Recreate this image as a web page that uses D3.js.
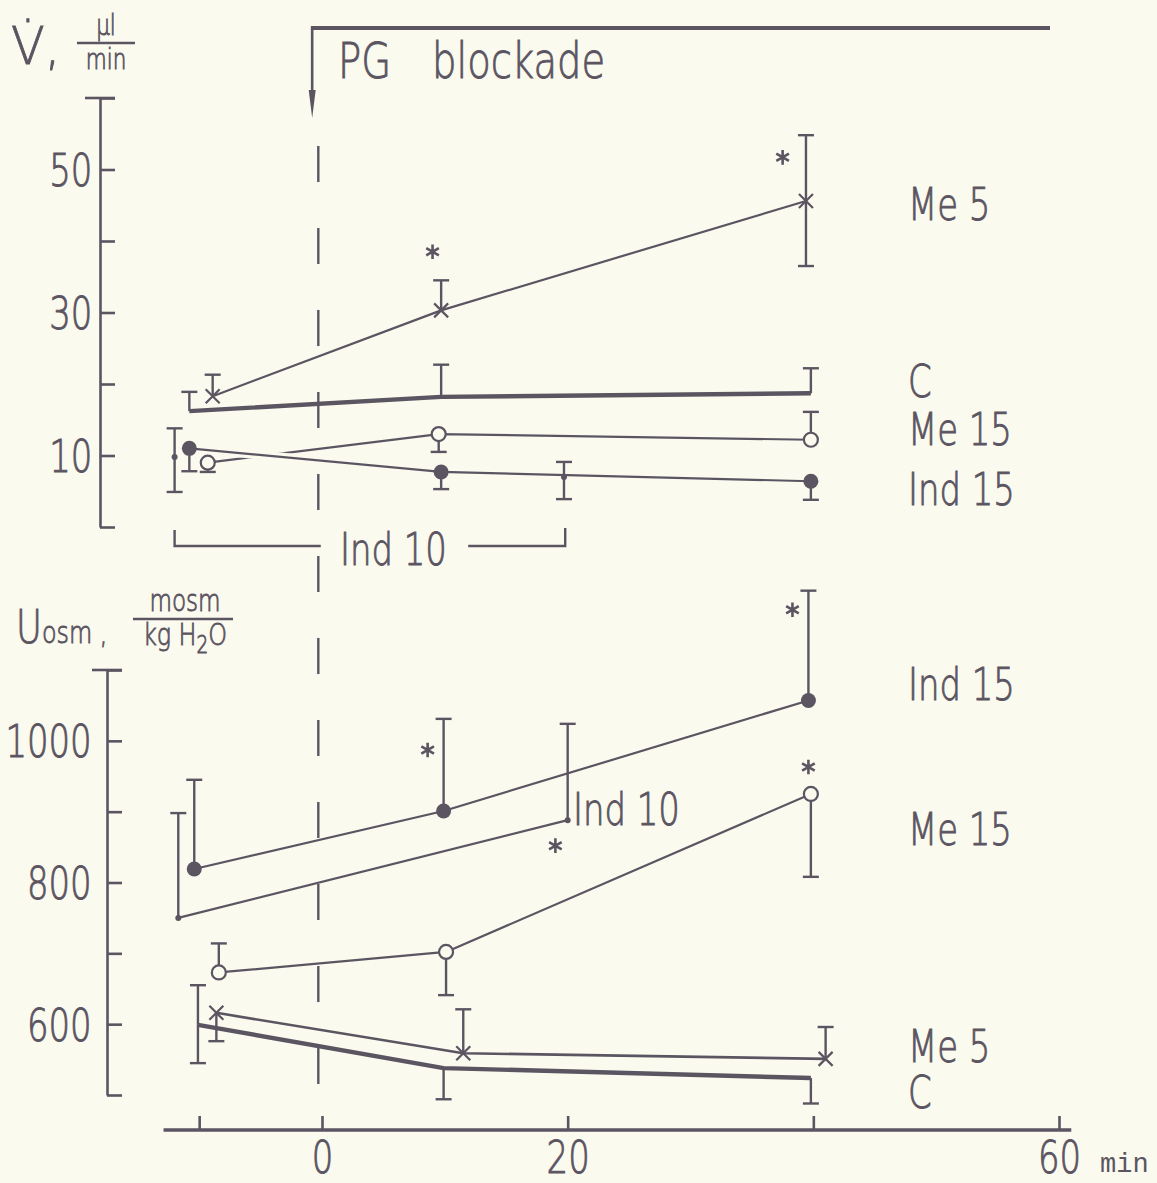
<!DOCTYPE html>
<html>
<head>
<meta charset="utf-8">
<script src="https://cdn.jsdelivr.net/npm/d3@7"></script>
<style>
body { margin: 0; background: #fbfaef; }
text { font-family: "DejaVu Sans", sans-serif; font-weight: 200; fill: #5b5562; stroke: #5b5562; stroke-width: 0.9px; }
</style>
</head>
<body>
<svg id="fig" width="1157" height="1183"></svg>
<script>
// rows: [minutes, mean, lower bar end, upper bar end]  (null = no bar on that side)
// upper panel, urine flow V (ul/min)
var flowC     = [[-10.8, 16.2, null, 18.9], [9.7, 18.2, null, 22.7], [39.8, 18.7, null, 22.2]];
var flowMe5   = [[-8.9, 18.3, null, 21.3], [9.7, 30.3, null, 34.5], [39.4, 45.6, 36.5, 54.8]];
var flowMe15  = [[-9.3, 9.0, 7.7, null], [9.5, 13.0, 10.5, null], [39.8, 12.2, null, 16.1]];
var flowInd15 = [[-10.8, 11.0, 7.8, null], [9.7, 7.7, 5.3, null], [39.8, 6.4, 3.8, null]];
var flowInd10 = [[-12.0, 9.8, 4.9, 13.8], [19.7, 7.0, 3.9, 9.1]];
var flowStars = [[9.0, 38.5], [37.5, 51.7]];

// lower panel, urine osmolality (mosm/kg H2O)
var osmC     = [[-10.1, 599, 545, 655], [9.9, 538, 494, null], [39.8, 524, 488, null]];
var osmMe5   = [[-8.6, 616, 576, null], [11.5, 559, null, 621], [41.0, 551, null, 596]];
var osmMe15  = [[-8.4, 673, null, 714], [10.1, 702, 641, null], [39.8, 925, 808, null]];
var osmInd15 = [[-10.4, 819, null, 945], [9.9, 901, null, 1031], [39.6, 1057, null, 1212]];
var osmInd10 = [[-11.7, 750, null, 898], [20.0, 888, null, 1024]];
var osmStars = [[8.6, 987], [38.3, 1185], [19.0, 852], [39.6, 963]];

var flowTicks = [0, 10, 20, 30, 40, 50, 60], flowLabels = [10, 30, 50];
var osmTicks = [500, 600, 700, 800, 900, 1000, 1100], osmLabels = [600, 800, 1000];
var timeTicks = [-10, 0, 20, 40, 60], timeLabels = [0, 20, 60];

// series names at the right, [text, value of baseline]
var flowNames = [["Me 5", 42.9], ["C", 18.2], ["Me 15", 11.5], ["Ind 15", 3.1]];
var osmNames = [["Ind 15", 1058], ["Me 15", 853], ["Me 5", 546], ["C", 481]];

var ink = "#5b5562", paper = "#fbfaef";
var SX = 0.77; // lettering is narrow

var svg = d3.select("#fig");
svg.append("rect").attr("width", 1157).attr("height", 1183).attr("fill", paper);

var x = d3.scaleLinear().domain([0, 60]).range([322, 1059]);
var yV = d3.scaleLinear().domain([0, 60]).range([527, 98]);
var yU = d3.scaleLinear().domain([500, 1100]).range([1095, 670]);

function label(px, py, s, size, anchor, sx) {
    var g = svg.append("g").attr("transform", "translate(" + px + "," + py + ") scale(" + (sx || SX) + ",1)");
    return g.append("text").attr("font-size", size).attr("text-anchor", anchor || "start").text(s);
}

function yAxis(scale, x0, ticks, labelled, pad) {
    var ax = d3.axisLeft(scale).tickValues(ticks).tickSizeInner(-15).tickSizeOuter(0).tickPadding(pad)
        .tickFormat(function(d) { return labelled.indexOf(d) >= 0 ? d : ""; });
    var g = svg.append("g").attr("transform", "translate(" + x0 + ",0)").call(ax);
    g.select(".domain").attr("stroke", ink).attr("stroke-width", 2.6);
    g.selectAll(".tick line").attr("stroke", ink).attr("stroke-width", 2.6);
    g.selectAll(".tick text").attr("font-size", 44).attr("font-family", "DejaVu Sans")
        .attr("fill", ink).attr("dy", "0.36em").attr("transform", "scale(" + SX + ",1)");
    var top = scale(ticks[ticks.length - 1]);
    g.append("line").attr("x1", -15).attr("x2", 15).attr("y1", top).attr("y2", top)
        .attr("stroke", ink).attr("stroke-width", 2.6);
}

yAxis(yV, 100, flowTicks, flowLabels, 10);
yAxis(yU, 107, osmTicks, osmLabels, 20);

// time axis
var xa = d3.axisBottom(x).tickValues(timeTicks).tickSizeInner(-14).tickSizeOuter(0).tickPadding(12)
    .tickFormat(function(d) { return timeLabels.indexOf(d) >= 0 ? d : ""; });
var gx = svg.append("g").attr("transform", "translate(0,1130)").call(xa);
gx.select(".domain").remove();
gx.selectAll(".tick line").attr("stroke", ink).attr("stroke-width", 2.6);
gx.selectAll(".tick text").attr("font-size", 44).attr("font-family", "DejaVu Sans")
    .attr("fill", ink).attr("transform", "scale(" + SX + ",1)");
gx.append("line").attr("x1", x(-12.9)).attr("x2", x(61)).attr("stroke", ink).attr("stroke-width", 3.6);
svg.append("text").attr("x", 1100).attr("y", 1172).attr("font-size", 27)
    .style("font-family", "'Liberation Mono', monospace").style("font-weight", 400).style("stroke-width", 0).text("min");

// start of the blockade
svg.append("line").attr("x1", x(-0.3)).attr("x2", x(-0.3)).attr("y1", 146).attr("y2", 1125)
    .attr("stroke", ink).attr("stroke-width", 2.4).attr("stroke-dasharray", "36,46");
svg.append("path").attr("d", "M" + x(-0.8) + ",94V28").attr("stroke", ink).attr("stroke-width", 2.6).attr("fill", "none");
svg.append("path").attr("d", "M" + (x(-0.8) - 1.3) + ",28H1050").attr("stroke", ink).attr("stroke-width", 4).attr("fill", "none");
svg.append("path").attr("d", "M" + (x(-0.8) - 3.5) + ",90L" + (x(-0.8) + 3.5) + ",90L" + x(-0.8) + ",118Z").attr("fill", ink);
label(338, 78, "PG", 50);
label(432, 78, "blockade", 50);

// axis titles
label(11, 64, "V\u0307,", 52, "start", 0.95);
label(106, 35, "\u00b5l", 28, "middle");
svg.append("line").attr("x1", 77).attr("x2", 135).attr("y1", 43).attr("y2", 43).attr("stroke", ink).attr("stroke-width", 2.4);
label(106, 69, "min", 28, "middle");

var ut = label(16, 643, "U", 46);
ut.append("tspan").attr("font-size", 31).text("osm ,");
label(185, 611, "mosm", 30, "middle");
svg.append("line").attr("x1", 133).attr("x2", 233).attr("y1", 619).attr("y2", 619).attr("stroke", ink).attr("stroke-width", 2.4);
var kg = label(185, 645, "kg H", 31, "middle");
kg.append("tspan").attr("font-size", 24).attr("dy", 8).text("2");
kg.append("tspan").attr("dy", -8).text("O");

// Ind 10 bracket under the upper panel
svg.append("path").attr("d", "M" + x(-12) + ",530V546H" + x(-0.1) + "M" + x(11.9) + ",546H" + x(19.8) + "V528")
    .attr("stroke", ink).attr("stroke-width", 2.4).attr("fill", "none");
label(340, 565, "Ind 10", 44);
label(573, 825, "Ind 10", 44);

function drawLine(data, scale, width, halo) {
    var ln = d3.line().x(function(d) { return x(d[0]); }).y(function(d) { return scale(d[1]); });
    if (halo) {
        svg.append("path").attr("d", ln(data)).attr("fill", "none").attr("stroke", paper).attr("stroke-width", halo);
    }
    svg.append("path").attr("d", ln(data)).attr("fill", "none").attr("stroke", ink)
        .attr("stroke-width", width).attr("stroke-linejoin", "round");
}

function drawBars(data, scale) {
    data.forEach(function(d) {
        [d[2], d[3]].forEach(function(end) {
            if (end === null) return;
            var px = x(d[0]);
            svg.append("line").attr("x1", px).attr("x2", px).attr("y1", scale(d[1])).attr("y2", scale(end))
                .attr("stroke", ink).attr("stroke-width", 2.4);
            svg.append("line").attr("x1", px - 8).attr("x2", px + 8).attr("y1", scale(end)).attr("y2", scale(end))
                .attr("stroke", ink).attr("stroke-width", 2.4);
        });
    });
}

function drawMarks(data, scale, kind) {
    data.forEach(function(d) {
        var px = x(d[0]), py = scale(d[1]);
        if (kind === "cross") {
            svg.append("path").attr("d", "M" + (px - 7) + "," + (py - 7) + "L" + (px + 7) + "," + (py + 7) +
                "M" + (px + 7) + "," + (py - 7) + "L" + (px - 7) + "," + (py + 7))
                .attr("stroke", ink).attr("stroke-width", 2.2);
        } else if (kind === "dot") {
            svg.append("circle").attr("cx", px).attr("cy", py).attr("r", 7.5).attr("fill", ink);
        } else if (kind === "open") {
            svg.append("circle").attr("cx", px).attr("cy", py).attr("r", 7).attr("fill", paper)
                .attr("stroke", ink).attr("stroke-width", 2.2);
        } else if (kind === "small") {
            svg.append("circle").attr("cx", px).attr("cy", py).attr("r", 3).attr("fill", ink);
        }
    });
}

function drawStars(data, scale) {
    var star = d3.symbol().type(d3.symbolAsterisk).size(150);
    data.forEach(function(d) {
        svg.append("path").attr("d", star()).attr("transform", "translate(" + x(d[0]) + "," + scale(d[1]) + ")")
            .attr("fill", "none").attr("stroke", ink).attr("stroke-width", 2.6);
    });
}

function names(list, scale) {
    list.forEach(function(n) { label(908, scale(n[1]), n[0], 44); });
}

// upper panel
drawLine(flowC, yV, 4.4);
drawLine(flowMe5, yV, 2.2);
drawLine(flowMe15, yV, 2.2);
drawLine(flowInd15, yV, 2.2, 9);
[flowC, flowMe5, flowMe15, flowInd15, flowInd10].forEach(function(s) { drawBars(s, yV); });
drawMarks(flowMe5, yV, "cross");
drawMarks(flowMe15, yV, "open");
drawMarks(flowInd15, yV, "dot");
drawMarks(flowInd10, yV, "small");
drawStars(flowStars, yV);
names(flowNames, yV);

// lower panel
drawLine(osmC, yU, 4.4);
drawLine(osmMe5, yU, 2.6);
drawLine(osmMe15, yU, 2.2);
drawLine(osmInd15, yU, 2.2);
drawLine(osmInd10, yU, 2.2);
[osmC, osmMe5, osmMe15, osmInd15, osmInd10].forEach(function(s) { drawBars(s, yU); });
drawMarks(osmMe5, yU, "cross");
drawMarks(osmMe15, yU, "open");
drawMarks(osmInd15, yU, "dot");
drawMarks(osmInd10, yU, "small");
drawStars(osmStars, yU);
names(osmNames, yU);
</script>
</body>
</html>
